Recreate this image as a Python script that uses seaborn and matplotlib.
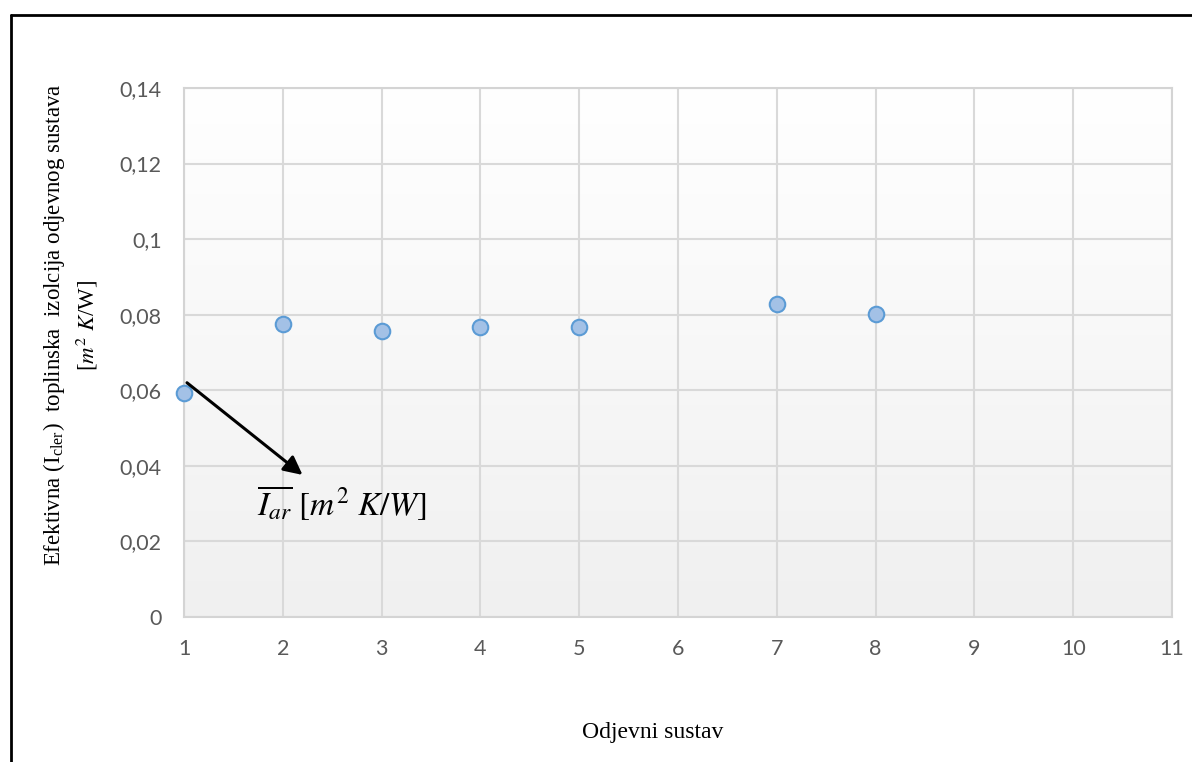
import numpy as np
import pandas as pd
import matplotlib
matplotlib.use("Agg")
import matplotlib.pyplot as plt
import seaborn as sns
from matplotlib.lines import Line2D

# ---- data ----
odjevni_sustav = [1, 2, 3, 4, 5, 7, 8]
ucinkovita_izolacija = [0.0593, 0.0775, 0.0756, 0.0768, 0.0767, 0.0828, 0.0801]
x_ticks = [1, 2, 3, 4, 5, 6, 7, 8, 9, 10, 11]
x_tick_labels = ["1", "2", "3", "4", "5", "6", "7", "8", "9", "10", "11"]
y_ticks = [0, 0.02, 0.04, 0.06, 0.08, 0.10, 0.12, 0.14]
y_tick_labels = ["0", "0,02", "0,04", "0,06", "0,08", "0,1", "0,12", "0,14"]
arrow_start = (1.03, 0.0620)
arrow_end = (2.20, 0.0376)
annot_pos = (1.74, 0.0300)

df = pd.DataFrame({"sustav": odjevni_sustav, "izolacija": ucinkovita_izolacija})

sns.set_theme(style="white")
plt.rcParams["font.family"] = ["Lato", "DejaVu Sans"]
plt.rcParams["mathtext.fontset"] = "stix"

fig = plt.figure(figsize=(11.92, 7.62), dpi=100)
ax = fig.add_axes([184 / 1192, 1 - 617 / 762, 988 / 1192, 529 / 762])

# gradient plot-area background
grad = np.linspace(0, 1, 256).reshape(-1, 1)
cmap = matplotlib.colors.LinearSegmentedColormap.from_list("bg", ["#ffffff", "#f0f0f0"])
ax.imshow(grad, extent=[0, 1, 0, 1], transform=ax.transAxes, aspect="auto",
          cmap=cmap, origin="upper", zorder=0)

sns.scatterplot(data=df, x="sustav", y="izolacija", ax=ax, s=125,
                color="#a3c1e6", edgecolor="#5b9bd5", linewidth=1.5, zorder=5,
                legend=False, clip_on=False)

ax.set_xlim(x_ticks[0], x_ticks[-1])
ax.set_ylim(y_ticks[0], y_ticks[-1])
ax.set_xticks(x_ticks)
ax.set_xticklabels(x_tick_labels)
ax.set_yticks(y_ticks)
ax.set_yticklabels(y_tick_labels)
ax.grid(True, color="#d9d9d9", linewidth=1.5, zorder=1)
ax.set_axisbelow(True)
for sp in ax.spines.values():
    sp.set_color("#d4d4d4")
    sp.set_linewidth(1.5)
ax.tick_params(axis="both", length=0, labelsize=15.5, labelcolor="#595959")
ax.tick_params(axis="y", pad=16)
ax.tick_params(axis="x", pad=16)

serif = ["Liberation Serif", "DejaVu Serif"]
ax.set_xlabel("Odjevni sustav", family=serif, fontsize=17, color="black")
ax.xaxis.set_label_coords(0.474, -0.198)
ax.set_ylabel("Efektivna (I$_{\\mathregular{cler}}$)  toplinska  izolcija odjevnog sustava\n"
              "[$m^2\\ K$/W]",
              family=serif, fontsize=16.5, color="black", linespacing=1.35)
ax.yaxis.label.set_va("center")
ax.yaxis.set_label_coords(-0.1150, 0.552)

ax.annotate("", xy=arrow_end, xytext=arrow_start,
            arrowprops=dict(arrowstyle="-|>", color="black", lw=2.2,
                            mutation_scale=28, shrinkA=0, shrinkB=0), zorder=6)
ax.text(annot_pos[0], annot_pos[1], r"$\overline{I_{ar}}\ [m^2\ K/W]$",
        fontsize=24, ha="left", va="center", color="black", zorder=6)

# outer border (left and top visible)
bx = 11 / 1192
by = 1 - 15 / 762
fig.add_artist(Line2D([bx, bx], [0, by], transform=fig.transFigure, color="black", lw=2))
fig.add_artist(Line2D([bx, 1], [by, by], transform=fig.transFigure, color="black", lw=2))

fig.savefig("out.png", dpi=100, facecolor="white")
